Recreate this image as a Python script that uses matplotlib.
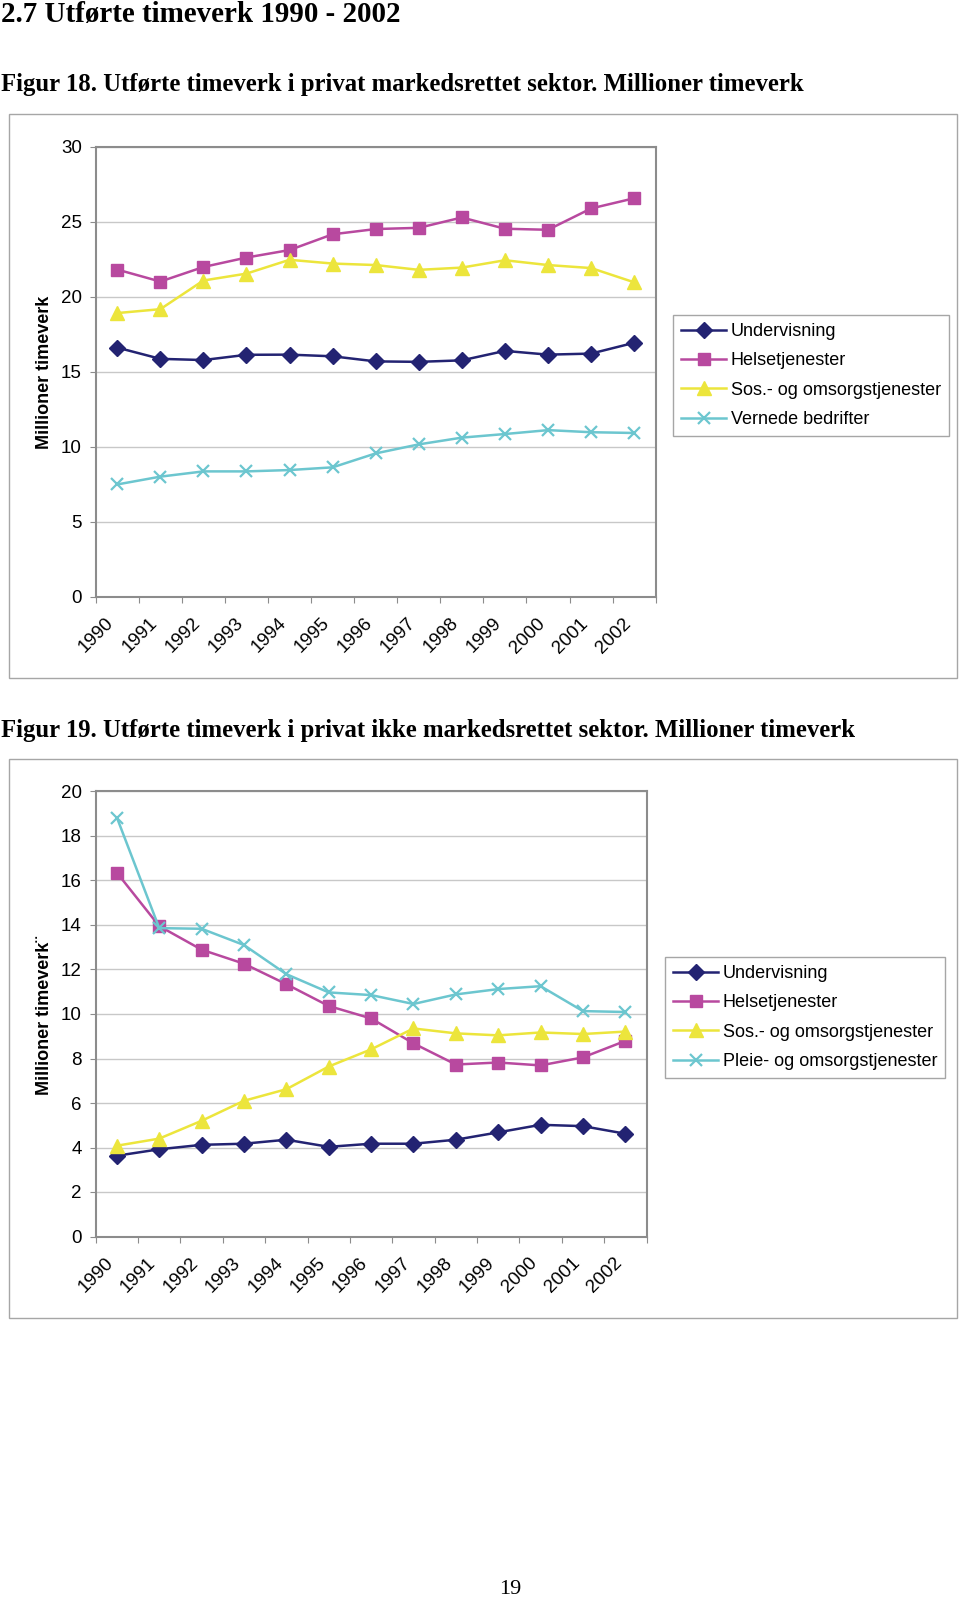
import matplotlib
matplotlib.use('Agg')
import matplotlib.pyplot as plt
import matplotlib.transforms as mtransforms
from matplotlib.patches import Rectangle
import numpy as np

# ---------------- data ----------------
years = ['1990', '1991', '1992', '1993', '1994', '1995', '1996',
         '1997', '1998', '1999', '2000', '2001', '2002']

# Figur 18
f18_names = ['Undervisning', 'Helsetjenester', 'Sos.- og omsorgstjenester', 'Vernede bedrifter']
f18_undervisning = [16.6, 15.85, 15.77, 16.12, 16.13, 16.02, 15.68, 15.65, 15.75, 16.38, 16.13, 16.2, 16.92]
f18_helse = [21.8, 21.0, 21.97, 22.6, 23.1, 24.15, 24.5, 24.58, 25.27, 24.52, 24.45, 25.87, 26.55]
f18_sos = [18.9, 19.16, 21.07, 21.53, 22.45, 22.2, 22.1, 21.78, 21.93, 22.42, 22.1, 21.9, 20.95]
f18_vernede = [7.48, 8.0, 8.35, 8.35, 8.44, 8.62, 9.55, 10.15, 10.6, 10.84, 11.1, 10.96, 10.91]

# Figur 19
f19_names = ['Undervisning', 'Helsetjenester', 'Sos.- og omsorgstjenester', 'Pleie- og omsorgstjenester']
f19_undervisning = [3.63, 3.92, 4.12, 4.17, 4.35, 4.03, 4.17, 4.17, 4.35, 4.68, 5.02, 4.96, 4.62]
f19_helse = [16.35, 13.95, 12.89, 12.26, 11.34, 10.36, 9.8, 8.68, 7.73, 7.82, 7.69, 8.05, 8.79]
f19_sos = [4.08, 4.4, 5.2, 6.1, 6.62, 7.64, 8.41, 9.35, 9.13, 9.04, 9.17, 9.1, 9.21]
f19_pleie = [18.83, 13.86, 13.83, 13.1, 11.79, 10.97, 10.85, 10.45, 10.88, 11.12, 11.25, 10.13, 10.09]

# ---------------- styling ----------------
W, H = 960, 1600
C_NAVY = '#232372'
C_MAG = '#B8499F'
C_YEL = '#ECE53C'
C_CYAN = '#6CC6CF'
styles = [
    dict(color=C_NAVY, marker='D', markersize=8, markerfacecolor=C_NAVY, markeredgecolor=C_NAVY),
    dict(color=C_MAG, marker='s', markersize=9, markerfacecolor=C_MAG, markeredgecolor=C_MAG),
    dict(color=C_YEL, marker='^', markersize=10, markerfacecolor=C_YEL, markeredgecolor=C_YEL),
    dict(color=C_CYAN, marker='x', markersize=9, markeredgewidth=1.6),
]

SANS = ['Liberation Sans', 'DejaVu Sans']
SERIF = ['Liberation Serif', 'DejaVu Serif']
plt.rcParams['font.family'] = SANS
TICK_FS = 13.5
LEG_FS = 13

fig = plt.figure(figsize=(W / 100, H / 100), dpi=100)


def fx(x):
    return x / W


def fy(y):
    return 1 - y / H


def fit_text(x, y, s, target_w, **kw):
    t = fig.text(fx(x), fy(y), s, fontsize=20, **kw)
    r = fig.canvas.get_renderer()
    w = t.get_window_extent(renderer=r).width
    t.set_fontsize(20 * target_w / w)
    return t


def make_chart(box, axes_px, ymax, ystep, series, names, legend_xy, ylabel, ylabel_y):
    # outer chart border
    x0, y0, x1, y1 = box
    fig.add_artist(Rectangle((fx(x0), fy(y1)), (x1 - x0) / W, (y1 - y0) / H,
                             transform=fig.transFigure, fill=False,
                             edgecolor='#A6A6A6', lw=1.0))
    l, t, r, b = axes_px
    ax = fig.add_axes([fx(l), fy(b), (r - l) / W, (b - t) / H])
    xs = np.arange(len(years))
    handles = []
    for vals, st, nm in zip(series, styles, names):
        h, = ax.plot(xs, vals, lw=1.8, label=nm, clip_on=False, **st)
        handles.append(h)
    ax.set_xlim(-0.5, len(years) - 0.5)
    ax.set_ylim(0, ymax)
    ax.set_yticks(np.arange(0, ymax + 0.1, ystep))
    ax.yaxis.grid(True, color='#C8C8C8', lw=1.0)
    ax.set_axisbelow(True)
    # category boundaries as tick marks, year labels at category centres
    ax.set_xticks(np.arange(-0.5, len(years), 1.0))
    ax.set_xticklabels([])
    ax.tick_params(axis='x', length=4, direction='out', color='#8C8C8C')
    off = mtransforms.ScaledTranslation(-12 / 100, -18 / 100, fig.dpi_scale_trans)
    for i, yr in enumerate(years):
        ax.text(xs[i], 0, yr, transform=ax.get_xaxis_transform() + off,
                rotation=45, ha='right', va='top', rotation_mode='anchor',
                fontsize=TICK_FS)
    ax.tick_params(axis='y', length=4, direction='out', color='#8C8C8C', pad=6, labelsize=TICK_FS)
    for sp in ax.spines.values():
        sp.set_color('#8C8C8C')
        sp.set_linewidth(1.5)
    fig.text(fx(45), fy(ylabel_y), ylabel, rotation=90, ha='center', va='center',
             fontsize=13, fontweight='bold')
    leg = ax.legend(handles=handles, loc='upper left', bbox_to_anchor=(fx(legend_xy[0]), fy(legend_xy[1])),
                    bbox_transform=fig.transFigure, frameon=True, fancybox=False,
                    edgecolor='#A6A6A6', framealpha=1, borderpad=0.45, labelspacing=0.68,
                    handlelength=2.5, handletextpad=0.25, borderaxespad=0, fontsize=LEG_FS)
    leg.get_frame().set_linewidth(1.0)
    return ax


# headings
fit_text(1, 14.5, '2.7 Utførte timeverk 1990 - 2002', 400, family=SERIF,
         fontweight='bold', ha='left', va='center')
fit_text(1, 84, 'Figur 18. Utførte timeverk i privat markedsrettet sektor. Millioner timeverk', 804,
         family=SERIF, fontweight='bold', ha='left', va='center')
fit_text(1, 730, 'Figur 19. Utførte timeverk i privat ikke markedsrettet sektor. Millioner timeverk', 855,
         family=SERIF, fontweight='bold', ha='left', va='center')

make_chart((8.5, 113.5, 957, 678), (95.7, 146.5, 655.7, 596.7), 30, 5,
           [f18_undervisning, f18_helse, f18_sos, f18_vernede], f18_names,
           (673, 315), 'Millioner timeverk', 372)

make_chart((8.5, 758.5, 957, 1318), (95.7, 791.5, 646.5, 1236.5), 20, 2,
           [f19_undervisning, f19_helse, f19_sos, f19_pleie], f19_names,
           (665, 957), 'Millioner timeverk¨', 1015)

fig.text(fx(510), fy(1589), '19', family=SERIF, fontsize=16, ha='center', va='center')

fig.savefig('out.png', dpi=100, facecolor='white')
